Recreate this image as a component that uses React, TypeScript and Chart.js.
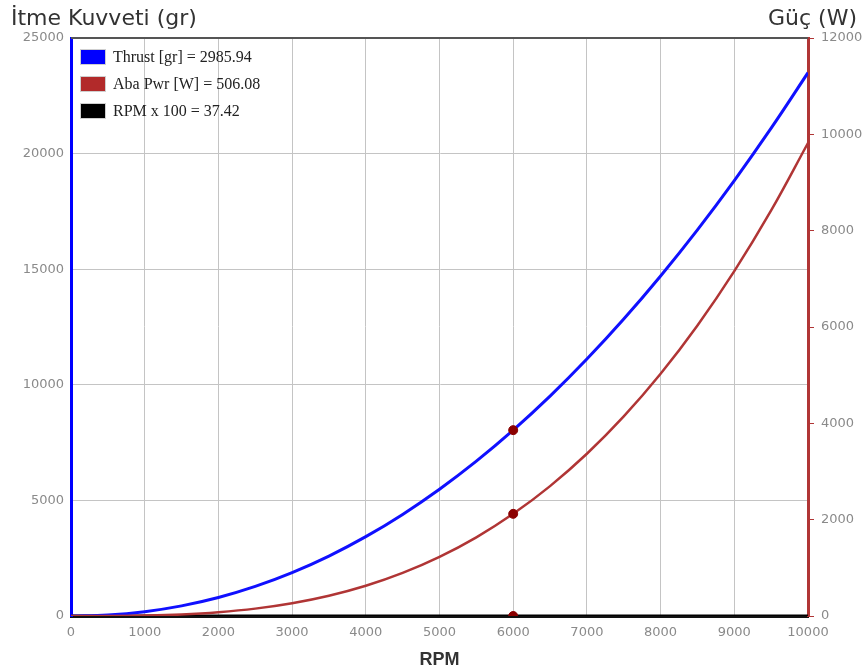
import React, { useEffect, useRef } from 'react';
import { Chart, registerables } from 'chart.js';

Chart.register(...registerables);

const rpmValues = [0, 500, 1000, 1500, 2000, 2500, 3000, 3500, 4000, 4500, 5000, 5500, 6000, 6500, 7000, 7500, 8000, 8500, 9000, 9500, 10000];
const thrustValues = [0, 44, 187, 438, 800, 1279, 1876, 2591, 3431, 4394, 5483, 6698, 8039, 9510, 11113, 12845, 14709, 16704, 18835, 21100, 23500];
const powerValues = [0, 1, 10, 33, 79, 153, 265, 421, 628, 895, 1228, 1634, 2121, 2697, 3368, 4143, 5028, 6031, 7159, 8420, 9820];
const rpmLineValues = [0, 0, 0, 0, 0, 0, 0, 0, 0, 0, 0, 0, 0, 0, 0, 0, 0, 0, 0, 0, 0];

const markerRpm = 6000;
const markerThrust = 8039;
const markerPower = 2121;
const markerRpmLine = 0;

const legendLabels = ['Thrust [gr] = 2985.94', 'Aba Pwr [W] = 506.08', 'RPM x 100 = 37.42'];
const legendColors = ['#0000ff', '#b22a2a', '#000000'];

const leftTitle = 'İtme Kuvveti (gr)';
const rightTitle = 'Güç (W)';
const xTitle = 'RPM';

const W = 866;
const H = 671;

const overlayPlugin = {
  id: 'overlay',
  afterDraw(chart: any) {
    const { ctx, chartArea } = chart;
    ctx.save();
    ctx.strokeStyle = '#555';
    ctx.lineWidth = 2;
    ctx.beginPath();
    ctx.moveTo(chartArea.left, chartArea.top);
    ctx.lineTo(chartArea.right, chartArea.top);
    ctx.stroke();
    ctx.fillStyle = '#333';
    ctx.font = '22px "DejaVu Sans"';
    ctx.textBaseline = 'middle';
    ctx.textAlign = 'left';
    ctx.fillText(leftTitle, 11, 19);
    ctx.textAlign = 'right';
    ctx.fillText(rightTitle, 857, 19);
    ctx.font = '16px "Liberation Serif"';
    ctx.textAlign = 'left';
    legendLabels.forEach((label, i) => {
      const y = chartArea.top + 19 + i * 27;
      ctx.fillStyle = legendColors[i];
      ctx.fillRect(chartArea.left + 10, y - 7, 24, 14);
      ctx.strokeStyle = '#cfcfcf';
      ctx.lineWidth = 1;
      ctx.strokeRect(chartArea.left + 9.5, y - 7.5, 25, 15);
      ctx.fillStyle = '#222';
      ctx.fillText(label, chartArea.left + 42, y + 1);
    });
    ctx.restore();
  },
};

export default function App() {
  const ref = useRef<HTMLCanvasElement>(null);
  useEffect(() => {
    if (!ref.current) return;
    const xy = (ys: number[]) => rpmValues.map((x, i) => ({ x, y: ys[i] }));
    const tickFont = { family: '"DejaVu Sans"', size: 13 };
    const plain = (v: any) => String(v);
    const chart = new Chart(ref.current, {
      type: 'line',
      data: {
        datasets: [
          {
            label: 'marker-thrust',
            data: [{ x: markerRpm, y: markerThrust }],
            yAxisID: 'y',
            showLine: false,
            pointRadius: 4.5,
            pointBackgroundColor: '#8b0000',
            pointBorderColor: '#8b0000',
            order: 0,
          },
          {
            label: 'marker-power',
            data: [{ x: markerRpm, y: markerPower }],
            yAxisID: 'y1',
            showLine: false,
            pointRadius: 4.5,
            pointBackgroundColor: '#8b0000',
            pointBorderColor: '#8b0000',
            order: 0,
          },
          {
            label: 'marker-rpm',
            data: [{ x: markerRpm, y: markerRpmLine }],
            yAxisID: 'y',
            showLine: false,
            pointRadius: 4.5,
            pointBackgroundColor: '#8b0000',
            pointBorderColor: '#8b0000',
            order: 0,
          },
          {
            label: legendLabels[0],
            data: xy(thrustValues),
            yAxisID: 'y',
            borderColor: '#1010ff',
            borderWidth: 3,
            pointRadius: 0,
            tension: 0.4,
            order: 2,
          },
          {
            label: legendLabels[1],
            data: xy(powerValues),
            yAxisID: 'y1',
            borderColor: '#b03535',
            borderWidth: 2.5,
            pointRadius: 0,
            tension: 0.4,
            order: 1,
          },
          {
            label: legendLabels[2],
            data: xy(rpmLineValues),
            yAxisID: 'y',
            borderColor: '#000000',
            borderWidth: 3,
            pointRadius: 0,
            order: 3,
          },
        ],
      },
      options: {
        animation: false,
        responsive: false,
        maintainAspectRatio: false,
        layout: { padding: { top: 38, left: 0, right: 0, bottom: 0 } },
        plugins: { legend: { display: false }, tooltip: { enabled: false } },
        scales: {
          x: {
            type: 'linear',
            min: 0,
            max: 10000,
            ticks: { stepSize: 1000, color: '#8a8a8a', font: tickFont, padding: 9, maxRotation: 0, callback: plain },
            grid: { color: '#c4c4c4', drawTicks: false },
            border: { color: '#111', width: 3 },
            title: { display: true, text: xTitle, color: '#333', font: { family: '"Liberation Sans"', size: 18, weight: 'bold' }, padding: { top: 0, bottom: 0 } },
            afterFit: (s: any) => { s.height = 55; },
          },
          y: {
            type: 'linear',
            position: 'left',
            min: 0,
            max: 25000,
            ticks: { stepSize: 5000, color: '#8a8a8a', font: tickFont, padding: 7, callback: plain },
            grid: { color: '#c4c4c4', drawTicks: false },
            border: { color: '#0000ff', width: 3 },
            afterFit: (s: any) => { s.width = 71; },
          },
          y1: {
            type: 'linear',
            position: 'right',
            min: 0,
            max: 12000,
            ticks: { stepSize: 2000, color: '#8a8a8a', font: tickFont, padding: 7, callback: plain },
            grid: { drawOnChartArea: false, drawTicks: true, tickLength: 6, tickColor: '#b03535' },
            border: { color: '#b03535', width: 3 },
            afterFit: (s: any) => { s.width = 58; },
          },
        },
      },
      plugins: [overlayPlugin],
    } as any);
    return () => chart.destroy();
  }, []);
  return (
    <div style={{ position: 'absolute', left: 0, top: 0, width: W, height: H, background: '#fff' }}>
      <canvas ref={ref} width={W} height={H} style={{ width: W, height: H, display: 'block' }} />
    </div>
  );
}
